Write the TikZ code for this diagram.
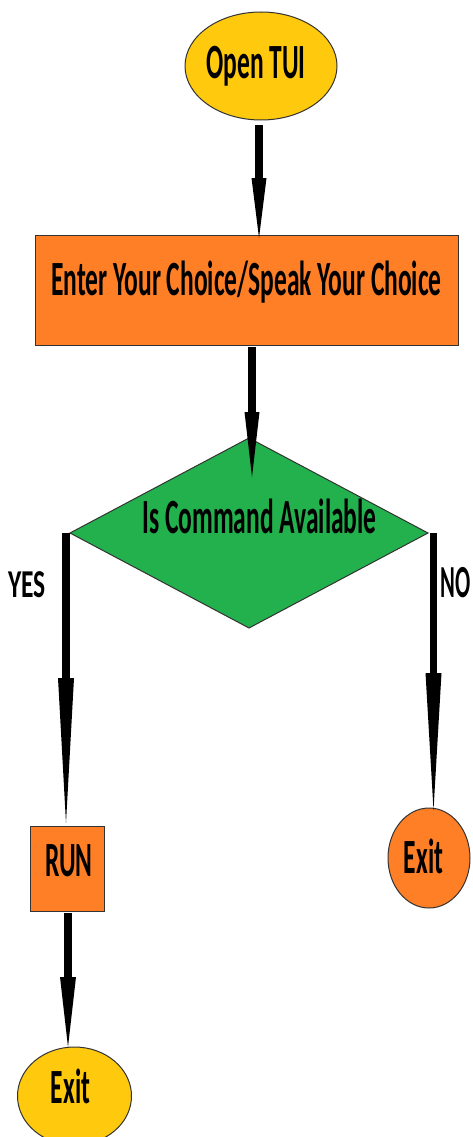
\documentclass[tikz,border=0pt]{standalone}
\usepackage{fontspec}
\setmainfont{Carlito}
\usetikzlibrary{shapes.geometric,arrows.meta}
\definecolor{fyellow}{HTML}{FFC90E}
\definecolor{forange}{HTML}{FF7F27}
\definecolor{fgreen}{HTML}{22B14C}
\definecolor{fborder}{HTML}{333333}
% #1 horizontal shift (twice the wanted offset), #2 vertical stretch, #3 text
\newcommand{\stx}[3]{\makebox[0pt]{\hspace*{#1}\scalebox{1}[#2]{#3}}}
\tikzset{
  shapebase/.style={draw=fborder, line width=1pt, inner sep=0pt, outer sep=0pt,
    font=\fontsize{25.5}{30}\selectfont\bfseries, text depth=0pt},
  termnode/.style={shapebase, ellipse, fill=fyellow},
  procbox/.style={shapebase, rectangle, fill=forange},
  exitnode/.style={shapebase, ellipse, fill=forange},
  decnode/.style={shapebase, diamond, fill=fgreen},
  arr/.style={draw=black, line width=7.5pt},
  lbl/.style={inner sep=0pt, font=\fontsize{25.5}{30}\selectfont\bfseries}
}
\begin{document}
\begin{tikzpicture}[x=1pt,y=-1pt]
\path[use as bounding box, fill=white] (0,0) rectangle (472,1137);

\node[termnode, minimum width=152pt, minimum height=108pt, text height=25pt] (open) at (261,66) {\stx{-10pt}{1.93}{Open TUI}};
\node[procbox, minimum width=423pt, minimum height=110pt, text height=11pt] (enter) at (246.5,290) {\stx{0pt}{1.93}{Enter Your Choice/Speak Your Choice}};
\node[decnode, minimum width=358pt, minimum height=190pt, text height=0pt] (dec) at (249,533) {\stx{21pt}{1.93}{Is Command Available}};
\node[procbox, minimum width=74pt, minimum height=85pt, text height=16pt] (run) at (67,868.5) {\stx{4pt}{1.93}{RUN}};
\node[exitnode, minimum width=82pt, minimum height=100pt, text height=30pt] (exitno) at (429,858) {\stx{-11pt}{1.93}{Exit}};
\node[termnode, minimum width=114pt, minimum height=98pt, text height=14pt] (exityes) at (74.5,1096) {\stx{-8pt}{1.93}{Exit}};

\node[lbl, anchor=base] (yes) at (27,597) {\scalebox{1}[1.55]{YES}};
\node[lbl, anchor=base west, font=\fontsize{22.5}{27}\selectfont\bfseries] (no) at (440,597) {\scalebox{1}[2.04]{NO}};

\draw[arr, -{Triangle[length=60pt,width=15pt,line width=0pt]}]
  ([xshift=-2pt,yshift=-5pt]open.south) -- ([xshift=-2pt,yshift=-3pt]open.south |- enter.north);
\draw[arr, -{Triangle[length=65pt,width=15pt,line width=0pt]}]
  ([xshift=5.5pt,yshift=-2pt]enter.south) -- ([xshift=3pt,yshift=-39pt]dec.north);
\draw[arr, -{Triangle[length=145pt,width=16pt,line width=0pt]}]
  ([xshift=-1pt]run.north |- dec.west) -- ([xshift=-1pt,yshift=3pt]run.north);
\draw[arr, -{Triangle[length=137pt,width=16pt,line width=0pt]}]
  ([xshift=4.5pt]exitno.north |- dec.east) -- ([xshift=4.5pt,yshift=-2pt]exitno.north);
\draw[arr, -{Triangle[length=70pt,width=16pt,line width=0pt]}]
  ([xshift=1pt,yshift=-2pt]run.south) -- ([xshift=1pt]run.south |- exityes.north);
\end{tikzpicture}
\end{document}
